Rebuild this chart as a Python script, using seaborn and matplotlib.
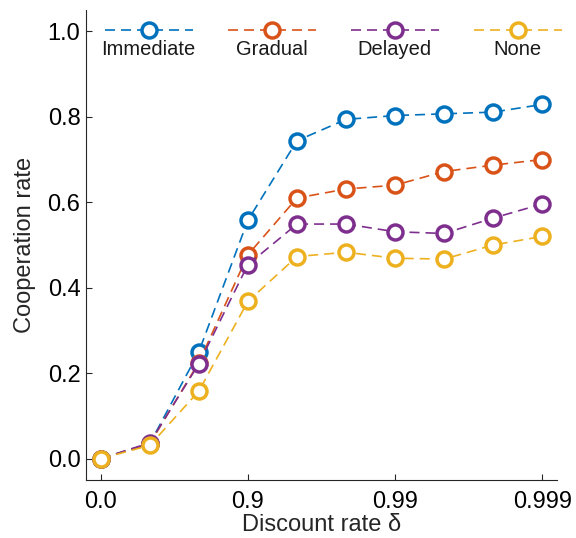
import matplotlib
matplotlib.use("Agg")
import matplotlib.pyplot as plt
from matplotlib.lines import Line2D
from matplotlib.offsetbox import DrawingArea, TextArea, VPacker, HPacker, AnchoredOffsetbox
import seaborn as sns
import numpy as np

# ---- data ----
x_index = [0, 1, 2, 3, 4, 5, 6, 7, 8, 9]
tick_positions = [0, 3, 6, 9]
tick_labels = ["0.0", "0.9", "0.99", "0.999"]
series_names = ["Immediate", "Gradual", "Delayed", "None"]
immediate = [0.0, 0.035, 0.250, 0.558, 0.744, 0.794, 0.803, 0.807, 0.811, 0.829]
gradual   = [0.0, 0.035, 0.225, 0.477, 0.610, 0.631, 0.640, 0.672, 0.687, 0.700]
delayed   = [0.0, 0.037, 0.222, 0.454, 0.549, 0.549, 0.531, 0.527, 0.563, 0.596]
none_     = [0.0, 0.031, 0.158, 0.368, 0.473, 0.483, 0.469, 0.467, 0.500, 0.520]
series_values = [immediate, gradual, delayed, none_]
colors = ["#0072BD", "#D95319", "#7E2F8E", "#EDB120"]
y_ticks = [0.0, 0.2, 0.4, 0.6, 0.8, 1.0]

sns.set_theme(style="ticks")
plt.rcParams["font.family"] = ["Liberation Sans", "DejaVu Sans"]
plt.rcParams["axes.edgecolor"] = "#262626"
plt.rcParams["xtick.color"] = "#262626"
plt.rcParams["ytick.color"] = "#262626"

W, H = 576, 538
fig = plt.figure(figsize=(W / 100, H / 100), dpi=100)
ax = fig.add_axes([86 / W, 1 - 480 / H, (557 - 86) / W, (480 - 10) / H])

LW = 1.2
DASH = (0, (6, 3.6))
MS = 10.8
MEW = 2.5

for name, vals, c in zip(series_names, series_values, colors):
    sns.lineplot(x=x_index, y=vals, ax=ax, color=c, linestyle=DASH, linewidth=LW,
                 marker="o", markersize=MS, markeredgewidth=MEW,
                 markeredgecolor=c, markerfacecolor="white", legend=False)

ax.set_xlim(-0.3, 9.3)
ax.set_ylim(-0.05, 1.05)
ax.set_xticks(tick_positions)
ax.set_xticklabels(tick_labels)
ax.set_yticks(y_ticks)
ax.set_yticklabels([f"{v:.1f}" for v in y_ticks])
ax.tick_params(direction="in", length=4, width=0.8, labelsize=17, colors="#262626",
               labelcolor="black")
ax.tick_params(axis="x", pad=8)
ax.tick_params(axis="y", pad=4)
for s in ["top", "right"]:
    ax.spines[s].set_visible(False)
for s in ["left", "bottom"]:
    ax.spines[s].set_linewidth(0.8)
ax.set_xlabel("Discount rate δ", fontsize=17, labelpad=0.5)
ax.set_ylabel("Cooperation rate", fontsize=17, labelpad=8)

# ---- custom legend: handle above label ----
px = 0.72  # points per pixel at 100 dpi
entry_w = 123 * px
entry_h = 20 * px
half_line = 44 * px
entries = []
for name, c in zip(series_names, colors):
    da = DrawingArea(entry_w, entry_h, 0, 0)
    cx, cy = entry_w / 2, entry_h / 2
    da.add_artist(Line2D([cx - half_line, cx + half_line], [cy, cy], color=c,
                         linestyle=DASH, linewidth=LW))
    da.add_artist(Line2D([cx], [cy], marker="o", markersize=MS, markeredgewidth=MEW,
                         markeredgecolor=c, markerfacecolor="white", linestyle="none"))
    ta = TextArea(name, textprops=dict(fontsize=14.5, color="#1a1a1a"))
    entries.append(VPacker(children=[da, ta], align="center", sep=0, pad=0))
box = HPacker(children=entries, align="top", sep=0, pad=0)
anch = AnchoredOffsetbox(loc="upper left", child=box, pad=0, borderpad=0, frameon=False,
                         bbox_to_anchor=(87 / W, 1 - 20 / H),
                         bbox_transform=fig.transFigure)
ax.add_artist(anch)

fig.savefig("out.png", dpi=100)
